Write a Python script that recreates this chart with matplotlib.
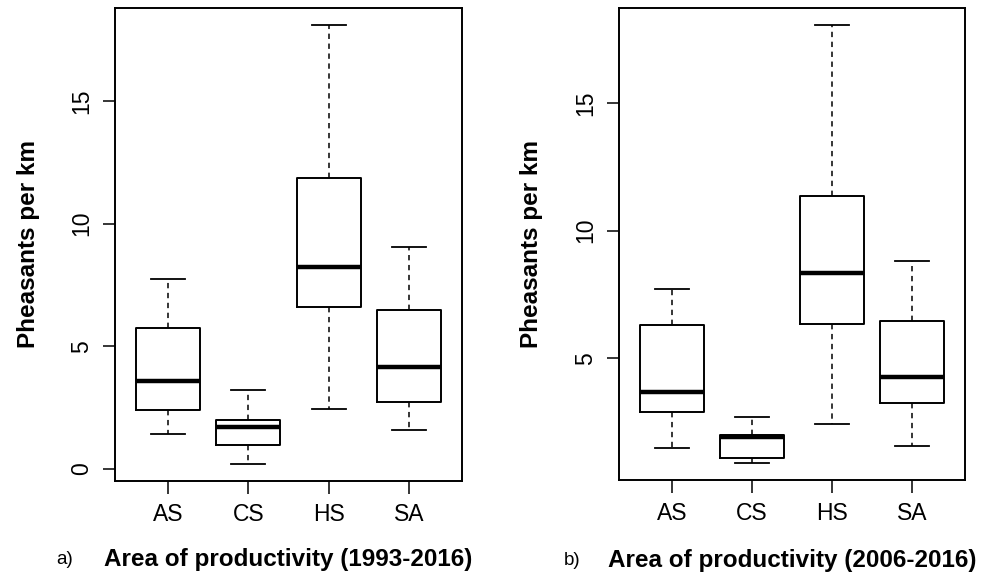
import matplotlib
matplotlib.use('Agg')
import matplotlib.pyplot as plt

plt.rcParams['font.family'] = ['Liberation Sans', 'DejaVu Sans']

areas = ['AS', 'CS', 'HS', 'SA']

# panel a) 1993-2016
a_low = [1.42, 0.22, 2.44, 1.57]
a_q1 = [2.40, 0.97, 6.59, 2.75]
a_med = [3.59, 1.72, 8.23, 4.15]
a_q3 = [5.76, 1.98, 11.87, 6.48]
a_high = [7.74, 3.22, 18.08, 9.04]

# panel b) 2006-2016
b_low = [1.48, 0.93, 2.45, 1.59]
b_q1 = [2.89, 1.10, 6.35, 3.24]
b_med = [3.69, 1.92, 8.33, 4.28]
b_q3 = [6.29, 1.99, 11.34, 6.48]
b_high = [7.71, 2.70, 18.03, 8.83]


def make_stats(low, q1, med, q3, high):
    return [dict(label=n, whislo=l, q1=a, med=m, q3=b, whishi=h, fliers=[])
            for n, l, a, m, b, h in zip(areas, low, q1, med, q3, high)]


def draw(ax, stats, ylim, yticks, tag, xlabel, tag_x, lab_y, ylab_x):
    ax.bxp(stats, positions=[1, 2, 3, 4], widths=0.8, showfliers=False,
           boxprops=dict(color='black', linewidth=1.4),
           medianprops=dict(color='black', linewidth=3.2, solid_capstyle='butt'),
           whiskerprops=dict(color='black', linewidth=1.1, linestyle=(0, (3.5, 3))),
           capprops=dict(color='black', linewidth=1.3),
           capwidths=0.42)
    ax.set_xlim(0.34, 4.66)
    ax.set_ylim(*ylim)
    ax.set_yticks(yticks)
    ax.set_yticklabels([str(t) for t in yticks], rotation=90, va='center')
    ax.set_xticks([1, 2, 3, 4])
    ax.set_xticklabels(areas)
    ax.tick_params(axis='both', direction='out', length=9, width=1.1,
                   labelsize=16.5, pad=7, colors='black')
    for s in ax.spines.values():
        s.set_linewidth(1.4)
    ax.set_ylabel('Pheasants per km', fontsize=17.5, fontweight='bold')
    ax.yaxis.set_label_coords(ylab_x, 0.5)
    ax.text(tag_x, lab_y, tag, transform=ax.transAxes, fontsize=13.5,
            ha='left', va='center')
    ax.text(0.5, lab_y, xlabel, transform=ax.transAxes, fontsize=17.5,
            fontweight='bold', ha='center', va='center')


fig = plt.figure(figsize=(9.88, 5.75), dpi=100)
ax1 = fig.add_axes([0.1164, 0.1635, 0.3512, 0.8226])
ax2 = fig.add_axes([0.6265, 0.1652, 0.3502, 0.8209])

draw(ax1, make_stats(a_low, a_q1, a_med, a_q3, a_high), (-0.49, 18.79),
     [0, 5, 10, 15], 'a)', 'Area of productivity (1993-2016)', -0.17, -0.167, -0.217)
draw(ax2, make_stats(b_low, b_q1, b_med, b_q3, b_high), (0.246, 18.71),
     [5, 10, 15], 'b)', 'Area of productivity (2006-2016)', -0.16, -0.1695, -0.219)

fig.savefig('out.png', dpi=100)
